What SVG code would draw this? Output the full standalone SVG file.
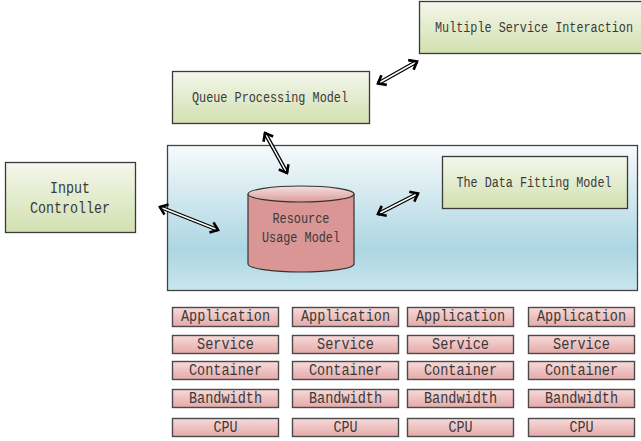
<svg xmlns="http://www.w3.org/2000/svg" width="641" height="441" viewBox="0 0 641 441">
<defs>
<linearGradient id="gGreen" x1="0" y1="0" x2="0" y2="1">
<stop offset="0" stop-color="#f4f7eb"/><stop offset="1" stop-color="#d2e0b0"/>
</linearGradient>
<linearGradient id="gBlue" x1="0" y1="0" x2="0" y2="1">
<stop offset="0" stop-color="#f7fafc"/><stop offset="0.72" stop-color="#acd6e2"/><stop offset="1" stop-color="#c9e6ee"/>
</linearGradient>
<linearGradient id="gPink" x1="0" y1="0" x2="0" y2="1">
<stop offset="0" stop-color="#f7dad9"/><stop offset="1" stop-color="#e4aaa8"/>
</linearGradient>
<linearGradient id="gCylTop" x1="0" y1="0" x2="0" y2="1">
<stop offset="0" stop-color="#f4e0df"/><stop offset="1" stop-color="#dc9c9a"/>
</linearGradient>
<marker id="chev" viewBox="-10 -7 12 14" markerWidth="12" markerHeight="14" refX="0" refY="0" orient="auto-start-reverse" markerUnits="userSpaceOnUse">
<path d="M-7,-5.5 L0,0 L-7,5.5" fill="none" stroke="#000" stroke-width="2.6" stroke-linejoin="miter"/>
</marker>
</defs>
<style>
.green{fill:url(#gGreen);stroke:#3a3a3a;stroke-width:1.3}
.pink{fill:url(#gPink);stroke:#4a4a4a;stroke-width:1.4}
.t{font-family:"Liberation Mono",monospace;fill:#3a3a3a;text-anchor:middle;dominant-baseline:central}
.s{font-size:14px}
.m{font-size:16px}
.l{font-size:17px}
.sh{stroke:#000;stroke-width:4;fill:none}
.sw{stroke:#fff;stroke-width:1.5;fill:none;marker-start:url(#chev);marker-end:url(#chev)}
</style>

<g id="platform">
<rect x="167.5" y="145.5" width="470" height="145" fill="url(#gBlue)" stroke="#444" stroke-width="1.3"/>
</g>

<g id="msi">
<rect class="green" x="419.5" y="1.5" width="225" height="52"/>
<text class="t s" x="534" y="28" textLength="198" lengthAdjust="spacingAndGlyphs">Multiple Service Interaction</text>
</g>

<g id="qpm">
<rect class="green" x="172.5" y="71.5" width="197" height="52"/>
<text class="t s" x="270" y="98" textLength="156" lengthAdjust="spacingAndGlyphs">Queue Processing Model</text>
</g>

<g id="input">
<rect class="green" x="5.5" y="162.5" width="130" height="70"/>
<text class="t l" x="70" y="188" textLength="40" lengthAdjust="spacingAndGlyphs">Input</text>
<text class="t l" x="70" y="208" textLength="80" lengthAdjust="spacingAndGlyphs">Controller</text>
</g>

<g id="dfm">
<rect class="green" x="442.5" y="156.5" width="185" height="52"/>
<text class="t s" x="534" y="183" textLength="155" lengthAdjust="spacingAndGlyphs">The Data Fitting Model</text>
</g>

<g id="rum">
<path d="M248,194 L248,264 A53,8 0 0 0 354,264 L354,194" fill="#d99694" stroke="#333" stroke-width="1.2"/>
<ellipse cx="301" cy="194" rx="53" ry="8" fill="url(#gCylTop)" stroke="#333" stroke-width="1.2"/>
<text class="t s" x="301" y="219" textLength="57" lengthAdjust="spacingAndGlyphs">Resource</text>
<text class="t s" x="301" y="238" textLength="78" lengthAdjust="spacingAndGlyphs">Usage Model</text>
</g>

<g id="connectors">
<line class="sh" x1="378" y1="83.5" x2="417" y2="61.5"/>
<line class="sw" x1="378" y1="83.5" x2="417" y2="61.5"/>
<line class="sh" x1="265" y1="133" x2="287" y2="173"/>
<line class="sw" x1="265" y1="133" x2="287" y2="173"/>
<line class="sh" x1="160" y1="207" x2="218" y2="230"/>
<line class="sw" x1="160" y1="207" x2="218" y2="230"/>
<line class="sh" x1="378" y1="214" x2="418" y2="193.5"/>
<line class="sw" x1="378" y1="214" x2="418" y2="193.5"/>
</g>

<g id="col1">
<rect class="pink" x="172.5" y="307.5" width="106" height="19"/><text class="t m" x="225.5" y="317" textLength="89" lengthAdjust="spacingAndGlyphs">Application</text>
<rect class="pink" x="172.5" y="335.5" width="106" height="18"/><text class="t m" x="225.5" y="345" textLength="57" lengthAdjust="spacingAndGlyphs">Service</text>
<rect class="pink" x="172.5" y="361.5" width="106" height="18"/><text class="t m" x="225.5" y="371" textLength="73" lengthAdjust="spacingAndGlyphs">Container</text>
<rect class="pink" x="172.5" y="389.5" width="106" height="18"/><text class="t m" x="225.5" y="399" textLength="73" lengthAdjust="spacingAndGlyphs">Bandwidth</text>
<rect class="pink" x="172.5" y="418.5" width="106" height="18"/><text class="t m" x="225.5" y="428" textLength="24" lengthAdjust="spacingAndGlyphs">CPU</text>
</g>
<g id="col2">
<rect class="pink" x="292.5" y="307.5" width="106" height="19"/><text class="t m" x="345.5" y="317" textLength="89" lengthAdjust="spacingAndGlyphs">Application</text>
<rect class="pink" x="292.5" y="335.5" width="106" height="18"/><text class="t m" x="345.5" y="345" textLength="57" lengthAdjust="spacingAndGlyphs">Service</text>
<rect class="pink" x="292.5" y="361.5" width="106" height="18"/><text class="t m" x="345.5" y="371" textLength="73" lengthAdjust="spacingAndGlyphs">Container</text>
<rect class="pink" x="292.5" y="389.5" width="106" height="18"/><text class="t m" x="345.5" y="399" textLength="73" lengthAdjust="spacingAndGlyphs">Bandwidth</text>
<rect class="pink" x="292.5" y="418.5" width="106" height="18"/><text class="t m" x="345.5" y="428" textLength="24" lengthAdjust="spacingAndGlyphs">CPU</text>
</g>
<g id="col3">
<rect class="pink" x="407.5" y="307.5" width="106" height="19"/><text class="t m" x="460.5" y="317" textLength="89" lengthAdjust="spacingAndGlyphs">Application</text>
<rect class="pink" x="407.5" y="335.5" width="106" height="18"/><text class="t m" x="460.5" y="345" textLength="57" lengthAdjust="spacingAndGlyphs">Service</text>
<rect class="pink" x="407.5" y="361.5" width="106" height="18"/><text class="t m" x="460.5" y="371" textLength="73" lengthAdjust="spacingAndGlyphs">Container</text>
<rect class="pink" x="407.5" y="389.5" width="106" height="18"/><text class="t m" x="460.5" y="399" textLength="73" lengthAdjust="spacingAndGlyphs">Bandwidth</text>
<rect class="pink" x="407.5" y="418.5" width="106" height="18"/><text class="t m" x="460.5" y="428" textLength="24" lengthAdjust="spacingAndGlyphs">CPU</text>
</g>
<g id="col4">
<rect class="pink" x="528.5" y="307.5" width="106" height="19"/><text class="t m" x="581.5" y="317" textLength="89" lengthAdjust="spacingAndGlyphs">Application</text>
<rect class="pink" x="528.5" y="335.5" width="106" height="18"/><text class="t m" x="581.5" y="345" textLength="57" lengthAdjust="spacingAndGlyphs">Service</text>
<rect class="pink" x="528.5" y="361.5" width="106" height="18"/><text class="t m" x="581.5" y="371" textLength="73" lengthAdjust="spacingAndGlyphs">Container</text>
<rect class="pink" x="528.5" y="389.5" width="106" height="18"/><text class="t m" x="581.5" y="399" textLength="73" lengthAdjust="spacingAndGlyphs">Bandwidth</text>
<rect class="pink" x="528.5" y="418.5" width="106" height="18"/><text class="t m" x="581.5" y="428" textLength="24" lengthAdjust="spacingAndGlyphs">CPU</text>
</g>
</svg>
